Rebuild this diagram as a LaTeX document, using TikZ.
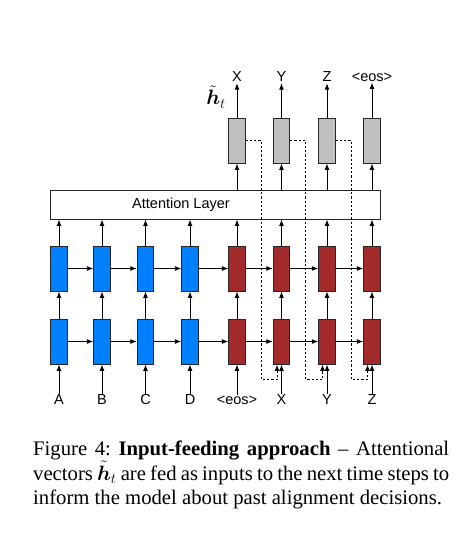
\documentclass[tikz,border=0pt]{standalone}
\usepackage{amsmath}
\usepackage{fontspec}
\setmainfont{Liberation Serif}
\setsansfont{Liberation Sans}
\usetikzlibrary{positioning,arrows.meta,calc}
\definecolor{EncBlue}{HTML}{0080FF}
\definecolor{DecRed}{HTML}{A32A2A}
\definecolor{OutGray}{HTML}{BFBFBF}

\begin{document}
\begin{tikzpicture}[
  x=1pt, y=-1pt,
  every node/.style={font=\sffamily\fontsize{14.5}{16}\selectfont},
  unit/.style={rectangle, draw=black!85, minimum width=16.5pt, minimum height=45pt, inner sep=0pt, line width=0.9pt},
  enc/.style={unit, fill=EncBlue},
  dec/.style={unit, fill=DecRed},
  outb/.style={unit, fill=OutGray},
  layer/.style={rectangle, draw=black!85, minimum width=330pt, minimum height=29pt, inner sep=0pt, line width=0.9pt},
  word/.style={inner sep=1pt},
  arr/.style={-{Latex[length=6.5pt,width=5pt]}, line width=1pt, draw=black},
  feed/.style={arr, dash pattern=on 2.2pt off 2pt}
]
\useasboundingbox (0,0) rectangle (467,541);

%% Stacked recurrent units -- source in blue, target in red.
\foreach \i/\x/\w in {1/59/A, 2/102/B, 3/145.5/C, 4/190/D, 5/237/<eos>, 6/281.5/X, 7/327/Y, 8/372/Z} {
  \ifnum\i<5
    \node[enc] (lo\i) at (\x, 341.5) {};
    \node[enc] (hi\i) at (\x, 268.5) {};
  \else
    \node[dec] (lo\i) at (\x, 341.5) {};
    \node[dec] (hi\i) at (\x, 268.5) {};
  \fi
  \node[word] (in\i) at (\x, 400) {\w};
  \draw[arr] (in\i.north) -- (lo\i.south);
  \draw[arr] (lo\i.north) -- (hi\i.south);
}
\foreach \i [count=\j from 2] in {1,...,7} {
  \draw[arr] (lo\i.east) -- (lo\j.west);
  \draw[arr] (hi\i.east) -- (hi\j.west);
}

%% Attention layer on top of the stack.
\node[layer] (attn) at (215, 204.5) {};
\node (attnlbl) at (181, 205) {Attention Layer};
\foreach \i in {1,...,8} {
  \draw[arr] (hi\i.north) -- (hi\i.north |- attn.south);
}

%% Attentional vectors and predicted words.
\foreach \i/\x/\w in {5/237/X, 6/281.5/Y, 7/327/Z, 8/372/<eos>} {
  \node[outb] (out\i) at (\x, 140.5) {};
  \node[word] (y\i) at (\x, 77) {\w};
  \draw[arr] (out\i.south |- attn.north) -- (out\i.south);
  \draw[arr] (out\i.north) -- (y\i.south);
}
\node[font=\fontsize{22}{24}\selectfont] (htilde) at (216, 97) {$\tilde{\boldsymbol{h}}_t$};

%% Input feeding -- dashed links to the next time step.
\foreach \i [count=\j from 6] in {5,6,7} {
  \draw[feed] (out\i.east) -- ++(15.5,0) |- ([xshift=-4.5pt,yshift=-15pt]lo\j.south) -- ([xshift=-4.5pt]lo\j.south);
}

%% Caption.
\node[anchor=north west, inner sep=0pt, text width=416pt, align=justify,
  font=\rmfamily\fontsize{20.7}{24.5}\selectfont] (caption) at (33, 441)
  {Figure 4:\ \textbf{Input-feeding approach} -- Attentional\linebreak
   vectors $\tilde{\boldsymbol{h}}_t$ are fed as inputs to the next time steps to\linebreak
   inform the model about past alignment decisions.};
\end{tikzpicture}
\end{document}
